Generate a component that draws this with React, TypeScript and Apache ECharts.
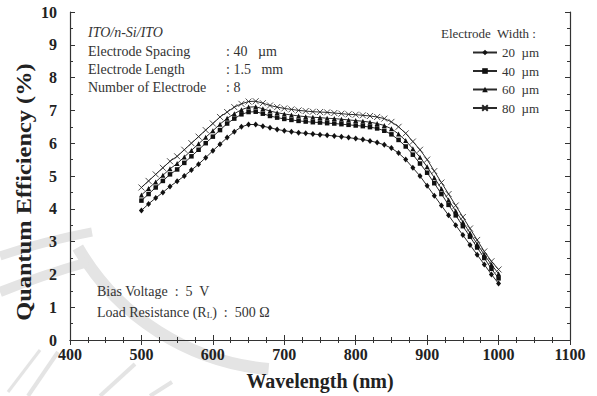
import React, { useEffect, useRef } from "react";
import * as echarts from "echarts";

const wavelengths = [500,510,520,530,540,550,560,570,580,590,600,610,620,630,640,650,660,670,680,690,700,710,720,730,740,750,760,770,780,790,800,810,820,830,840,850,860,870,880,890,900,910,920,930,940,950,960,970,980,990,1000];

const qe20 = [3.95,4.15,4.33,4.5,4.68,4.84,5.0,5.18,5.36,5.56,5.77,5.97,6.17,6.35,6.5,6.57,6.57,6.52,6.47,6.42,6.38,6.35,6.32,6.3,6.28,6.26,6.24,6.22,6.2,6.17,6.14,6.11,6.07,6.02,5.95,5.85,5.7,5.5,5.25,5.0,4.7,4.4,4.1,3.8,3.5,3.2,2.9,2.6,2.3,2.0,1.72];
const qe40 = [4.25,4.45,4.65,4.85,5.05,5.2,5.4,5.6,5.8,6.0,6.2,6.4,6.6,6.75,6.88,6.95,6.96,6.9,6.83,6.78,6.74,6.71,6.68,6.66,6.64,6.63,6.61,6.6,6.58,6.56,6.54,6.52,6.49,6.45,6.38,6.27,6.1,5.9,5.65,5.38,5.1,4.78,4.45,4.12,3.8,3.47,3.15,2.82,2.5,2.17,1.88];
const qe60 = [4.42,4.62,4.82,5.02,5.22,5.38,5.58,5.78,5.98,6.18,6.38,6.58,6.76,6.9,7.02,7.1,7.11,7.05,6.98,6.93,6.89,6.86,6.83,6.81,6.79,6.78,6.76,6.75,6.73,6.71,6.69,6.67,6.64,6.6,6.54,6.44,6.28,6.08,5.83,5.57,5.28,4.95,4.61,4.27,3.93,3.6,3.26,2.93,2.6,2.3,2.02];
const qe80 = [4.65,4.85,5.05,5.25,5.45,5.6,5.8,6.0,6.2,6.4,6.6,6.8,6.95,7.1,7.2,7.27,7.28,7.22,7.15,7.1,7.06,7.03,7.0,6.98,6.96,6.95,6.94,6.92,6.9,6.88,6.87,6.85,6.83,6.8,6.75,6.65,6.5,6.3,6.05,5.8,5.5,5.15,4.8,4.45,4.1,3.75,3.4,3.05,2.7,2.4,2.15];

const seriesNames = ["20  µm", "40  µm", "60  µm", "80  µm"];
const xTicks = [400, 1100, 100];
const yTicks = [0, 10, 1];

const SERIF = "'Liberation Serif', 'Times New Roman', serif";
const WM = "#e4e4e4";

export default function App() {
  const ref = useRef<HTMLDivElement>(null);
  useEffect(() => {
    if (!ref.current) return;
    const chart = echarts.init(ref.current, null, { renderer: "svg" });
    const mk = (arr: number[]) => wavelengths.map((w, i) => [w, arr[i]]);
    const lineColor = "#2a2a2a";
    const base = {
      type: "line",
      lineStyle: { color: lineColor, width: 1 },
      itemStyle: { color: "#111" },
      emphasis: { disabled: true },
      z: 5,
    };
    const axisCommon = {
      axisLine: { show: true, lineStyle: { color: "#333", width: 1.2 } },
      axisTick: { show: true, inside: true, length: 5, lineStyle: { color: "#333" } },
      minorTick: { show: true, length: 3, lineStyle: { color: "#333" } },
      splitLine: { show: false },
    };
    const txt = (left: number, top: number, text: string, size = 14, extra: any = {}) => ({
      type: "text",
      left,
      top,
      z: 10,
      style: { text, font: `${size}px ${SERIF}`, fill: "#333", ...extra },
    });
    chart.setOption({
      animation: false,
      backgroundColor: "#fff",
      grid: { left: 70, right: 27, top: 12, bottom: 53 },
      legend: {
        orient: "vertical",
        left: 467,
        top: 41,
        itemGap: 5.5,
        itemWidth: 24,
        itemHeight: 7,
        textStyle: { fontFamily: SERIF, fontSize: 13, color: "#333" },
        data: seriesNames,
      },
      xAxis: [
        {
          type: "value",
          min: xTicks[0],
          max: xTicks[1],
          interval: xTicks[2],
          ...axisCommon,
          minorTick: { ...axisCommon.minorTick, splitNumber: 4 },
          axisLabel: {
            fontFamily: SERIF,
            fontWeight: "bold",
            fontSize: 16,
            color: "#222",
            margin: 6,
            formatter: (v: number) => String(v),
          },
          name: "Wavelength (nm)",
          nameLocation: "middle",
          nameGap: 31,
          nameTextStyle: { fontFamily: SERIF, fontWeight: "bold", fontSize: 20, color: "#222" },
        },
        {
          type: "value",
          position: "top",
          min: xTicks[0],
          max: xTicks[1],
          interval: xTicks[2],
          ...axisCommon,
          minorTick: { ...axisCommon.minorTick, splitNumber: 4 },
          axisLabel: { show: false },
        },
      ],
      yAxis: [
        {
          type: "value",
          min: yTicks[0],
          max: yTicks[1],
          interval: yTicks[2],
          ...axisCommon,
          minorTick: { ...axisCommon.minorTick, splitNumber: 2 },
          axisLabel: { fontFamily: SERIF, fontWeight: "bold", fontSize: 16, color: "#222", margin: 13 },
        },
        {
          type: "value",
          position: "right",
          min: yTicks[0],
          max: yTicks[1],
          interval: yTicks[2],
          ...axisCommon,
          minorTick: { ...axisCommon.minorTick, splitNumber: 2 },
          axisLabel: { show: false },
        },
      ],
      series: [
        { ...base, name: seriesNames[0], data: mk(qe20), symbol: "diamond", symbolSize: [5, 6] },
        { ...base, name: seriesNames[1], data: mk(qe40), symbol: "rect", symbolSize: 4.5 },
        { ...base, name: seriesNames[2], data: mk(qe60), symbol: "triangle", symbolSize: 5 },
        {
          ...base,
          name: seriesNames[3],
          data: mk(qe80),
          symbol: "path://M0,0L10,10M10,0L0,10",
          symbolSize: 6,
          itemStyle: { color: "rgba(0,0,0,0)", borderColor: "#222", borderWidth: 0.8 },
        },
      ],
      graphic: [
        // faint watermark bands
        {
          type: "arc",
          z: -10,
          silent: true,
          shape: { cx: 290, cy: 125, r: 245, startAngle: (95 * Math.PI) / 180, endAngle: (150 * Math.PI) / 180 },
          style: { stroke: WM, lineWidth: 12, fill: "none" },
        },
        {
          type: "bezierCurve",
          z: -10,
          silent: true,
          shape: { x1: 0, y1: 256, cpx1: 30, cpy1: 246, cpx2: 60, cpy2: 238, x2: 92, y2: 232 },
          style: { stroke: WM, lineWidth: 9, fill: "none" },
        },
        {
          type: "bezierCurve",
          z: -10,
          silent: true,
          shape: { x1: 0, y1: 292, cpx1: 30, cpy1: 280, cpx2: 60, cpy2: 270, x2: 88, y2: 262 },
          style: { stroke: WM, lineWidth: 10, fill: "none" },
        },
        { type: "line", z: -10, silent: true, shape: { x1: 28, y1: 396, x2: 58, y2: 352 }, style: { stroke: WM, lineWidth: 4 } },
        { type: "line", z: -10, silent: true, shape: { x1: 8, y1: 392, x2: 40, y2: 350 }, style: { stroke: WM, lineWidth: 3 } },
        { type: "line", z: -10, silent: true, shape: { x1: 100, y1: 396, x2: 135, y2: 364 }, style: { stroke: WM, lineWidth: 4 } },
        { type: "line", z: -10, silent: true, shape: { x1: 150, y1: 396, x2: 172, y2: 382 }, style: { stroke: WM, lineWidth: 4 } },
        // y axis title
        {
          type: "text",
          x: 24,
          y: 192,
          rotation: Math.PI / 2,
          scaleX: 1.22,
          z: 10,
          style: {
            text: "Quantum Efficiency (%)",
            font: `bold 20px ${SERIF}`,
            fill: "#222",
            textAlign: "center",
            textVerticalAlign: "middle",
          },
        },
        { ...txt(88, 25, "ITO/n-Si/ITO", 14, { font: `italic 14px ${SERIF}` }) },
        txt(88, 44, "Electrode Spacing"),
        txt(88, 62, "Electrode Length"),
        txt(88, 80, "Number of Electrode"),
        txt(226, 44, ": 40   µm"),
        txt(226, 62, ": 1.5   mm"),
        txt(226, 80, ": 8"),
        txt(441, 27, "Electrode  Width :", 13),
        txt(97, 284, "Bias Voltage  :  5  V"),
        {
          ...txt(97, 305, "Load Resistance (R{sub|L})  :  500 Ω"),
          style: {
            text: "Load Resistance (R{sub|L})  :  500 Ω",
            font: `14px ${SERIF}`,
            fill: "#333",
            rich: { sub: { fontSize: 9, fontFamily: SERIF, fill: "#333", verticalAlign: "bottom", padding: [6, 0, 0, 0] } },
          },
        },
      ],
    });
    return () => chart.dispose();
  }, []);
  return <div ref={ref} style={{ position: "fixed", left: 0, top: 0, width: 597, height: 396 }} />;
}
